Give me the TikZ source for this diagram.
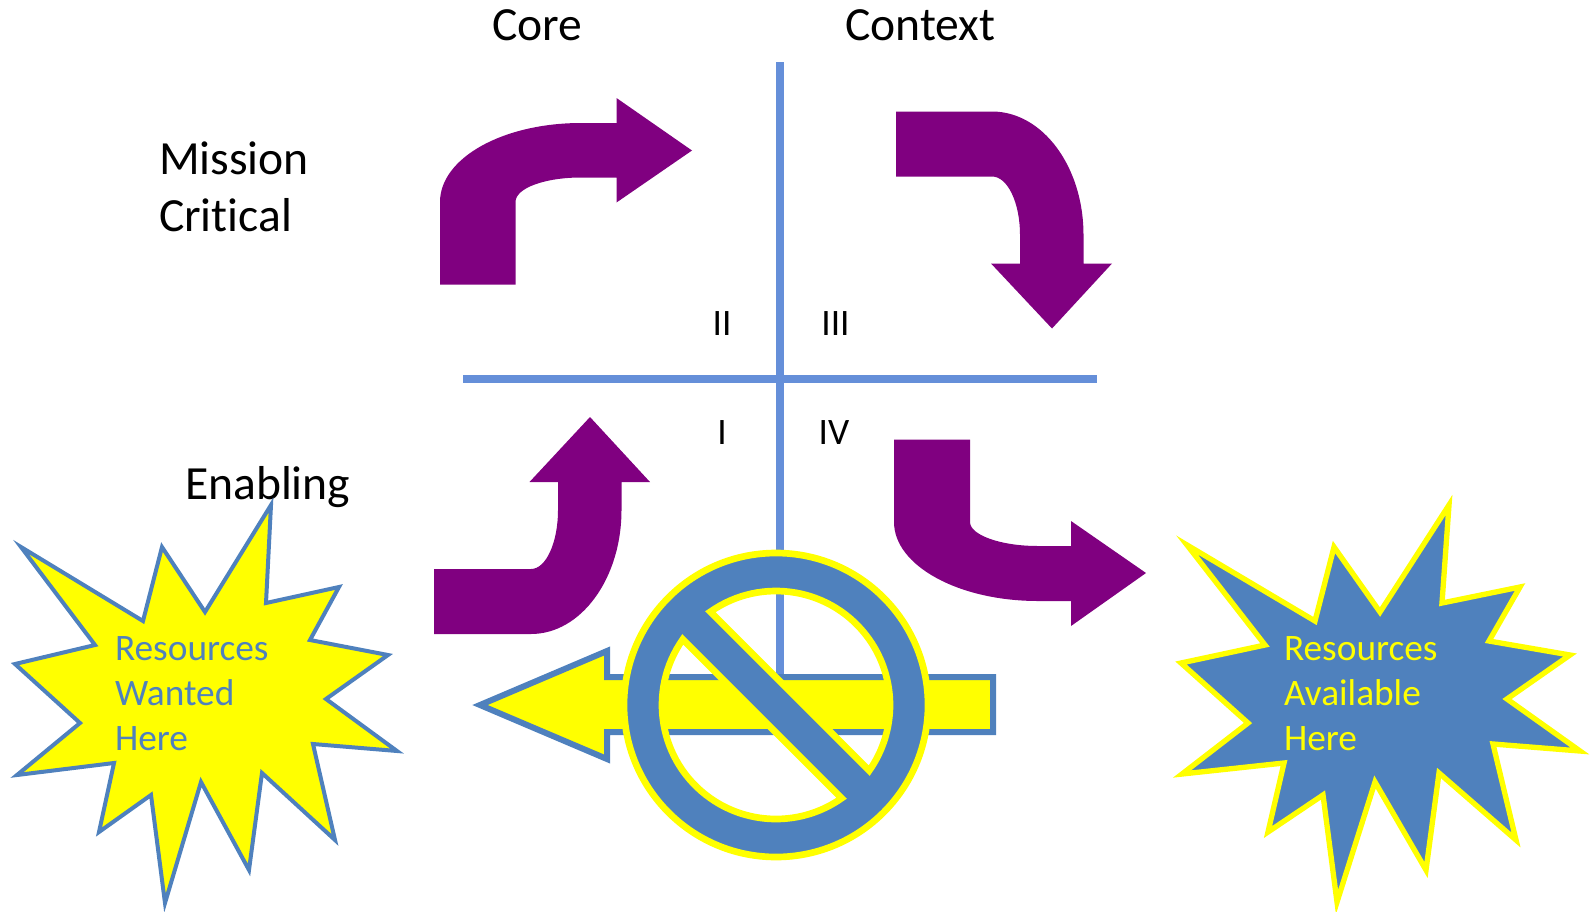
\documentclass[tikz,border=0pt]{standalone}
\usepackage{fontspec}
\setmainfont[Ligatures=NoCommon]{Carlito}
\newcommand{\headingsize}{\fontsize{35.7}{42.7}\selectfont}
\newcommand{\smallsize}{\fontsize{28}{33.6}\selectfont}
\definecolor{bendpurple}{HTML}{800080}
\definecolor{axisblue}{HTML}{658FD9}
\definecolor{shapeblue}{HTML}{4F81BD}
\definecolor{signyellow}{HTML}{FFFF00}
\tikzstyle{heading}=[anchor=base west, inner sep=0, outer sep=0, font=\headingsize]
\tikzstyle{quadrant}=[anchor=base, inner sep=0, outer sep=0, font=\smallsize]
\tikzstyle{bursttext}=[anchor=north west, inner sep=0, outer sep=0, align=left, font=\smallsize]
\tikzstyle{axis}=[draw=axisblue, line width=6pt]
\tikzstyle{bentarrow}=[fill=bendpurple]
\tikzstyle{wantedburst}=[draw=shapeblue, fill=signyellow, line width=3pt, miter limit=20]
\tikzstyle{availableburst}=[draw=signyellow, fill=shapeblue, line width=4pt, miter limit=20]
\tikzstyle{blockedarrow}=[draw=shapeblue, fill=signyellow, line width=4.5pt, miter limit=20]
\tikzstyle{forbidden}=[draw=signyellow, fill=shapeblue, even odd rule, line width=5pt, miter limit=20]
\begin{document}
\begin{tikzpicture}[x=0.75pt, y=-0.75pt]
        \useasboundingbox (0, 0) rectangle (1592, 911);
        % Axes.
        \coordinate (axisN) at (780, 62);
        \coordinate (axisS) at (780, 677);
        \coordinate (axisW) at (463, 379);
        \coordinate (axisE) at (1097, 379);
        \draw[axis] (axisN) -- (axisS);
        \draw[axis] (axisW) -- (axisE);
        % Labels.
        \node[heading] (core) at (492, 40) {Core};
        \node[heading] (context) at (845, 40) {Context};
        \node[heading] (mission) at (159, 174) {Mission};
        \node[heading] (critical) at (159, 231.5) {Critical};
        \node[heading] (enabling) at (185, 499.5) {Enabling};
        \node[quadrant] (q2) at (722, 335) {II};
        \node[quadrant] (q3) at (835.5, 335) {III};
        \node[quadrant] (q1) at (722, 444) {I};
        \node[quadrant] (q4) at (834, 444) {IV};
        % Purple arrows.
        \fill[bentarrow] (440, 284.5) -- (440, 202) .. controls (440, 158) and (503, 123) .. (581, 123)
            -- (616.5, 123) -- (616.5, 98) -- (692, 150.5) -- (616.5, 202.5) -- (616.5, 177.5) -- (581, 177.5)
            .. controls (545, 177.5) and (515.5, 188) .. (515.5, 202) -- (515.5, 284.5) -- cycle;
        \fill[bentarrow] (896, 111.5) -- (992, 111.5) .. controls (1042.5, 111.5) and (1083.5, 166.5) .. (1083.5, 235)
            -- (1083.5, 263.5) -- (1112, 263.5) -- (1052, 328.5) -- (991, 263.5) -- (1020, 263.5) -- (1020, 235)
            .. controls (1020, 202.4) and (1007.5, 176.5) .. (992, 176.5) -- (896, 176.5) -- cycle;
        \fill[bentarrow] (434, 569) -- (531, 569) .. controls (546, 569) and (558, 542.6) .. (558, 510)
            -- (558, 482) -- (529.5, 482) -- (590, 417) -- (650, 482) -- (621.5, 482) -- (621.5, 510)
            .. controls (621.5, 578.5) and (581, 634) .. (531, 634) -- (434, 634) -- cycle;
        \fill[bentarrow] (894, 439.5) -- (970, 439.5) -- (970, 522) .. controls (970, 535) and (1000.5, 546) .. (1038, 546)
            -- (1071, 546) -- (1071, 521) -- (1146, 573) -- (1071, 626) -- (1071, 601) -- (1038, 601)
            .. controls (958.5, 601) and (894, 565.6) .. (894, 522) -- cycle;
        % Bursts.
        \draw[wantedburst] (271, 505) -- (266, 603) -- (339, 587) -- (310, 640) -- (388, 655) -- (326, 699)
            -- (397, 751) -- (313, 744) -- (335, 840) -- (262, 773) -- (249, 870) -- (201, 782)
            -- (165, 903) -- (151, 795) -- (99, 832) -- (114, 763) -- (17, 775) -- (80, 723)
            -- (15, 664) -- (95, 645) -- (21, 547) -- (143, 621) -- (162, 547) -- (205, 612) -- cycle;
        \draw[availableburst] (1449, 505) -- (1442, 603) -- (1520, 587) -- (1489, 641) -- (1570, 655) -- (1507, 699)
            -- (1580, 751) -- (1493, 744) -- (1516, 840) -- (1439, 773) -- (1426, 870) -- (1375, 782)
            -- (1337, 902) -- (1323, 795) -- (1268, 832) -- (1284, 763) -- (1182, 774) -- (1248, 723)
            -- (1181, 663) -- (1265, 645) -- (1187, 545) -- (1315, 621) -- (1334, 547) -- (1380, 612) -- cycle;
        \node[bursttext, text=shapeblue] (wanted) at (115, 637) {Resources\\Wanted\\Here};
        \node[bursttext, text=signyellow] (available) at (1284, 637) {Resources\\Available\\Here};
        % Blocked flow.
        \draw[blockedarrow] (480, 705) -- (607, 651) -- (607, 677) -- (993, 677) -- (993, 732) -- (607, 732) -- (607, 759) -- cycle;
        \coordinate (sign) at (776, 705);
        \draw[forbidden] (sign) circle[radius=114pt]
            (sign) ++(125.15:85.5pt) arc[start angle=125.15, end angle=-35.15, radius=85.5pt] -- cycle
            (sign) ++(144.85:85.5pt) arc[start angle=144.85, end angle=305.15, radius=85.5pt] -- cycle;
    \end{tikzpicture}
\end{document}
